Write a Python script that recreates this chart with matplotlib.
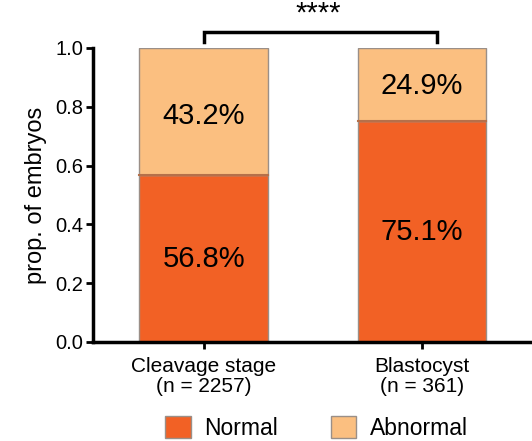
import numpy as np
import matplotlib.pyplot as plt
from matplotlib.patches import Patch

plt.rcParams['font.family'] = ['Liberation Sans', 'DejaVu Sans']

# data
groups = ['Cleavage stage\n(n = 2257)', 'Blastocyst\n(n = 361)']
normal = [0.568, 0.751]
abnormal = [0.432, 0.249]
normal_lbl = ['56.8%', '75.1%']
abnormal_lbl = ['43.2%', '24.9%']
yticks = [0.0, 0.2, 0.4, 0.6, 0.8, 1.0]

c_norm = '#F26125'
c_abn = '#FBBF80'

fig = plt.figure(figsize=(5.32, 4.41), dpi=100)
ax = fig.add_axes([0.175, 0.2245, 0.83, 0.667])

x = np.arange(len(groups))
w = 0.59
ax.bar(x, normal, w, color=c_norm, edgecolor='#9a8f88', linewidth=1)
ax.bar(x, abnormal, w, bottom=normal, color=c_abn, edgecolor='#9a8f88', linewidth=1)
# darker divider between segments, then the percentages
for i in range(len(x)):
    ax.plot([x[i] - w / 2, x[i] + w / 2], [normal[i], normal[i]], color='#b5704a', lw=1.5)
    ax.text(x[i], normal[i] / 2 + 0.01, normal_lbl[i], ha='center', va='center_baseline', fontsize=21)
    ax.text(x[i], normal[i] + abnormal[i] / 2 - 0.005 + 0.01 * i, abnormal_lbl[i], ha='center',
            va='center_baseline', fontsize=21)

ax.set_xlim(-0.507, 1.516)
ax.set_ylim(0, 1.0)
ax.set_yticks(yticks)
ax.set_yticklabels(['%.1f' % t for t in yticks])
ax.set_xticks(x)
ax.set_xticklabels(groups, fontsize=15, linespacing=1.05)
ax.tick_params(axis='y', labelsize=14.5, width=2, length=5, pad=2)
ax.tick_params(axis='x', width=2, length=5, pad=6)
for s in ['top', 'right']:
    ax.spines[s].set_visible(False)
for s in ['left', 'bottom']:
    ax.spines[s].set_linewidth(2.5)
ax.set_ylabel('prop. of embryos', fontsize=17, labelpad=6)

# significance bracket
bx0, bx1 = 0.0, 1.07
ax.plot([bx0, bx0, bx1, bx1], [1.02, 1.055, 1.055, 1.02], color='black', lw=2.5,
        clip_on=False, solid_joinstyle='miter')
ax.text((bx0 + bx1) / 2 - 0.01, 1.07, '****', ha='center', va='bottom', fontsize=21)

handles = [Patch(facecolor=c_norm, edgecolor='#9a8f88'), Patch(facecolor=c_abn, edgecolor='#9a8f88')]
fig.legend(handles, ['Normal', 'Abnormal'], loc='lower center', bbox_to_anchor=(0.595, -0.045),
           ncol=2, frameon=False, fontsize=16.5, handlelength=1.1, handleheight=1.1,
           columnspacing=2.3, handletextpad=0.6)

fig.savefig('out.png', dpi=100)
